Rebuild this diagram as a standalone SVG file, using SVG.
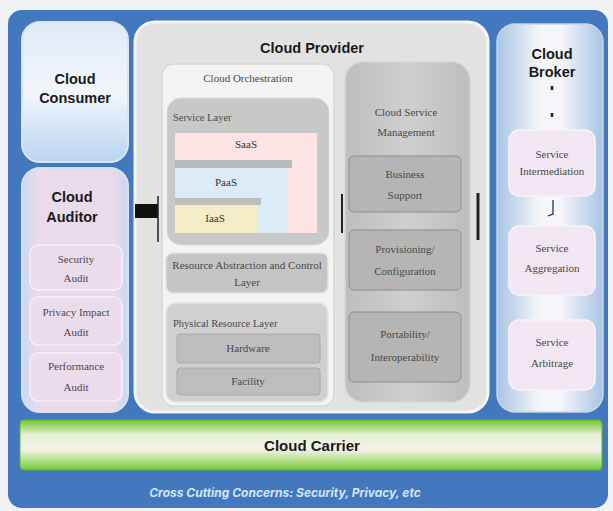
<svg xmlns="http://www.w3.org/2000/svg" width="613" height="511" viewBox="0 0 613 511">
<defs>
<linearGradient id="gCons" x1="0" y1="0" x2="0" y2="1"><stop offset="0" stop-color="#dfeaf6"/><stop offset="0.5" stop-color="#f2f6fb"/><stop offset="1" stop-color="#b9d4f0"/></linearGradient>
<linearGradient id="gAud" x1="0" y1="0" x2="1" y2="0"><stop offset="0" stop-color="#c9d9ef"/><stop offset="0.15" stop-color="#eadbea"/><stop offset="0.85" stop-color="#eadbea"/><stop offset="1" stop-color="#c9d9ef"/></linearGradient>
<linearGradient id="gBrk" x1="0" y1="0" x2="1" y2="0"><stop offset="0" stop-color="#a9c4e4"/><stop offset="0.4" stop-color="#f4f6f9"/><stop offset="0.6" stop-color="#f4f6f9"/><stop offset="1" stop-color="#a9c4e4"/></linearGradient>
<linearGradient id="gCar" x1="0" y1="0" x2="0" y2="1"><stop offset="0" stop-color="#6cc92a"/><stop offset="0.3" stop-color="#e8f0d8"/><stop offset="0.6" stop-color="#f2f2e6"/><stop offset="1" stop-color="#74cc30"/></linearGradient>
<linearGradient id="gCsm" x1="0" y1="0" x2="1" y2="0"><stop offset="0" stop-color="#bdbdbd"/><stop offset="0.5" stop-color="#cfcfcf"/><stop offset="1" stop-color="#bdbdbd"/></linearGradient>
</defs>
<style>
.t{font-family:"Liberation Sans",Arial,sans-serif;font-weight:bold;fill:#1a1a1a;text-anchor:middle}
.s{font-family:"Liberation Serif","Times New Roman",serif;fill:#4a4a4a;text-anchor:middle;font-size:11px}
.sl{font-family:"Liberation Serif","Times New Roman",serif;fill:#4a4a4a;font-size:10.5px}
.sub{fill:#ebdcec;stroke:#f7eff7;stroke-width:1.5}
.gbox{fill:#c4c4c4;stroke:#e2e2e2;stroke-width:1.5}
.mbox{fill:#b5b5b5;stroke:#8e8e8e;stroke-width:1}
.bsub{fill:#f1e6f1;stroke:#f8f2f8;stroke-width:1.5}
.conn{stroke:#222;fill:none}
</style>
<rect x="0" y="0" width="613" height="511" fill="#f0f2f4"/>
<rect x="8" y="10" width="600" height="498" rx="14" fill="#4377be"/>

<g id="consumer">
<rect x="22" y="22" width="106" height="140" rx="18" fill="url(#gCons)" stroke="#d8e6f4" stroke-width="2"/>
<text class="t" x="75" y="84" font-size="14.5">Cloud</text>
<text class="t" x="75" y="103" font-size="14.5">Consumer</text>
</g>

<g id="auditor">
<rect x="22" y="168" width="106" height="244" rx="18" fill="url(#gAud)" stroke="#d4e2f2" stroke-width="2"/>
<text class="t" x="72" y="202" font-size="14.5">Cloud</text>
<text class="t" x="72" y="222" font-size="14.5">Auditor</text>
<g id="security-audit"><rect class="sub" x="30" y="245" width="92" height="45" rx="8"/><text class="s" x="76" y="263">Security</text><text class="s" x="76" y="282">Audit</text></g>
<g id="privacy-audit"><rect class="sub" x="30" y="297" width="92" height="48" rx="8"/><text class="s" x="76" y="316">Privacy Impact</text><text class="s" x="76" y="336">Audit</text></g>
<g id="performance-audit"><rect class="sub" x="30" y="353" width="92" height="48" rx="8"/><text class="s" x="76" y="370">Performance</text><text class="s" x="76" y="391">Audit</text></g>
</g>

<g id="provider">
<rect x="135" y="22" width="353" height="390" rx="20" fill="#e2e2e2" stroke="#f6f6f6" stroke-width="3"/>
<text class="t" x="312" y="53" font-size="14.5">Cloud Provider</text>
</g>

<g id="orchestration">
<rect x="162" y="64" width="172" height="342" rx="12" fill="#f3f3f3" stroke="#d8d8d8" stroke-width="1.5"/>
<text class="s" x="248" y="82" font-size="11.5">Cloud Orchestration</text>
</g>

<g id="service-layer">
<rect x="167" y="98" width="162" height="147" rx="14" fill="#c8c8c8" stroke="#dcdcdc" stroke-width="1"/>
<text class="sl" x="173" y="121">Service Layer</text>
</g>
<g id="saas"><rect x="175" y="133" width="142" height="100" fill="#fde3e4"/><text class="s" x="246" y="148" style="fill:#333">SaaS</text></g>
<rect x="175" y="160" width="117" height="8" fill="#b9b9b9"/>
<g id="paas"><rect x="175" y="168" width="112" height="65" fill="#dcebf8"/><text class="s" x="226" y="186" font-size="12" style="fill:#333">PaaS</text></g>
<rect x="175" y="198" width="86" height="7" fill="#bdbdbd"/>
<g id="iaas"><rect x="175" y="205" width="82" height="28" fill="#f3ecc6"/><text class="s" x="215" y="222" style="fill:#333">IaaS</text></g>

<g id="resource-abstraction">
<rect class="gbox" x="166" y="253" width="162" height="40" rx="7"/>
<text class="s" x="247" y="269" font-size="10.5">Resource Abstraction and Control</text>
<text class="s" x="247" y="286" font-size="10.5">Layer</text>
</g>

<g id="physical-layer">
<rect x="166" y="303" width="162" height="99" rx="10" fill="#d0d0d0" stroke="#e2e2e2" stroke-width="1.5"/>
<text class="sl" x="173" y="327">Physical Resource Layer</text>
<g id="hardware"><rect x="177" y="334" width="143" height="29" rx="3" fill="#bdbdbd" stroke="#aaa"/><text class="s" x="248" y="352">Hardware</text></g>
<g id="facility"><rect x="177" y="368" width="143" height="27" rx="3" fill="#bdbdbd" stroke="#aaa"/><text class="s" x="248" y="385">Facility</text></g>
</g>

<g id="service-management">
<rect x="345" y="62" width="125" height="340" rx="18" fill="url(#gCsm)" stroke="#d6d6d6" stroke-width="1.5"/>
<text class="s" x="406" y="116" font-size="12">Cloud Service</text>
<text class="s" x="406" y="136" font-size="12">Management</text>
<g id="business-support"><rect class="mbox" x="349" y="156" width="112" height="56" rx="5"/><text class="s" x="405" y="178" font-size="12">Business</text><text class="s" x="405" y="199" font-size="12">Support</text></g>
<g id="provisioning"><rect class="mbox" x="349" y="230" width="112" height="60" rx="5"/><text class="s" x="405" y="253" font-size="12">Provisioning/</text><text class="s" x="405" y="275" font-size="12">Configuration</text></g>
<g id="portability"><rect class="mbox" x="349" y="312" width="112" height="70" rx="5"/><text class="s" x="405" y="338" font-size="12">Portability/</text><text class="s" x="405" y="361" font-size="12">Interoperability</text></g>
</g>

<g id="broker">
<rect x="497" y="24" width="106" height="388" rx="18" fill="url(#gBrk)" stroke="#c6d6ea" stroke-width="1.5"/>
<text class="t" x="552" y="59" font-size="14.5">Cloud</text>
<text class="t" x="552" y="77" font-size="14.5">Broker</text>
<g id="service-intermediation"><rect class="bsub" x="509" y="130" width="86" height="66" rx="10"/><text class="s" x="552" y="158" font-size="10">Service</text><text class="s" x="552" y="175" font-size="10">Intermediation</text></g>
<g id="service-aggregation"><rect class="bsub" x="509" y="226" width="86" height="69" rx="10"/><text class="s" x="552" y="252" font-size="10">Service</text><text class="s" x="552" y="272" font-size="10">Aggregation</text></g>
<g id="service-arbitrage"><rect class="bsub" x="509" y="320" width="86" height="70" rx="10"/><text class="s" x="552" y="346" font-size="10">Service</text><text class="s" x="552" y="367" font-size="10">Arbitrage</text></g>
</g>

<g id="connectors">
<rect x="135" y="204" width="23" height="14" fill="#111"/>
<line class="conn" x1="158" y1="196" x2="158" y2="242" stroke-width="1.5"/>
<line class="conn" x1="342" y1="194" x2="342" y2="233" stroke="#888" stroke-width="2"/>
<line class="conn" x1="478" y1="193" x2="478" y2="240" stroke="#777" stroke-width="3"/>
<line class="conn" x1="552" y1="86" x2="552" y2="90" stroke-width="2.5"/>
<line class="conn" x1="552" y1="113" x2="552" y2="117" stroke-width="2.5"/>
<path class="conn" d="M553 200 V214 L548 216" stroke-width="1.2"/>
</g>

<g id="carrier">
<rect x="20" y="420" width="582" height="50" rx="4" fill="url(#gCar)" stroke="#5fb82a" stroke-width="1"/>
<text class="t" x="312" y="451" font-size="15">Cloud Carrier</text>
</g>

<text x="285" y="497" font-family="Inter,'Liberation Sans',sans-serif" font-size="12" font-style="italic" font-weight="bold" fill="#d3e6fb" text-anchor="middle">Cross Cutting Concerns: Security, Privacy, etc</text>
</svg>
